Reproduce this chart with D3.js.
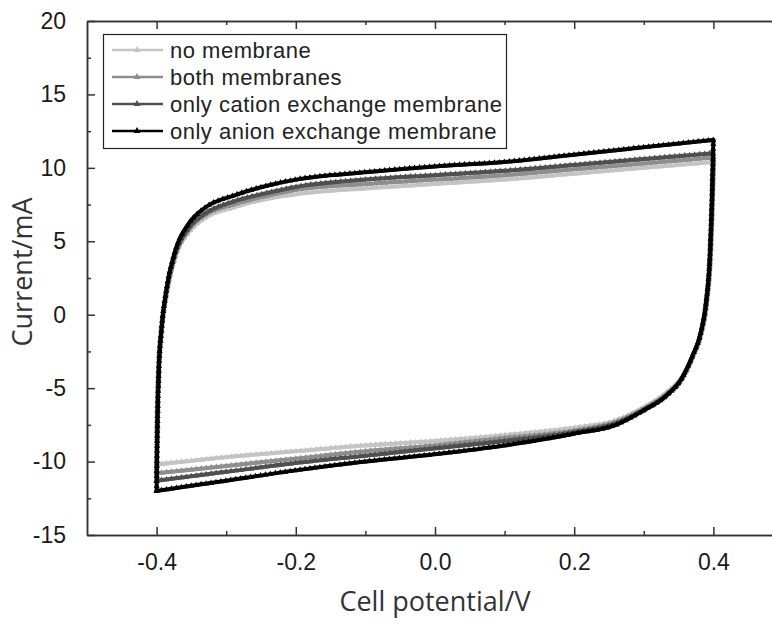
<!DOCTYPE html>
<html>
<head>
<meta charset="utf-8">
<script src="https://cdn.jsdelivr.net/npm/d3@7"></script>
<style>
body { margin:0; background:#fff; }
.tick text { font-family:"Liberation Sans", Arial, sans-serif; fill:#1a1a1a; }
.title { font-family:"Open Sans", sans-serif; fill:#333; }
.legend text { font-family:"Liberation Sans", Arial, sans-serif; fill:#222; }
</style>
</head>
<body>
<svg></svg>
<script>
//series names, in drawing order
var seriesNames = ["no membrane","both membranes","only cation exchange membrane","only anion exchange membrane"];
var seriesColors = ["#c4c4c4","#8e8e8e","#4f4f4f","#000000"];

//forward scan (-0.4 -> 0.4), potentials in V
var upperPotential = [-0.400,-0.399,-0.397,-0.393,-0.386,-0.373,-0.354,-0.330,-0.290,-0.240,-0.200,-0.100,0.000,0.100,0.200,0.300,0.400];
//reverse scan (0.4 -> -0.4)
var lowerPotential = [0.400,0.398,0.395,0.390,0.382,0.370,0.355,0.330,0.300,0.260,0.200,0.100,0.000,-0.100,-0.200,-0.300,-0.400];

//currents in mA
var noneUpper   = [-10.2,-7.0,-3.6,-1.0,1.4,4.0,5.6,6.6,7.3,7.9,8.2,8.6,8.9,9.2,9.6,10.0,10.4];
var noneLower   = [10.4,7.0,3.6,1.0,-1.2,-2.8,-4.2,-5.4,-6.3,-7.2,-7.7,-8.2,-8.6,-8.9,-9.3,-9.7,-10.2];
var bothUpper   = [-10.8,-7.3,-3.7,-1.0,1.5,4.1,5.8,6.8,7.5,8.1,8.5,8.9,9.2,9.5,9.9,10.3,10.7];
var bothLower   = [10.7,7.3,3.7,1.0,-1.2,-2.8,-4.3,-5.5,-6.4,-7.3,-7.9,-8.4,-8.9,-9.3,-9.8,-10.3,-10.8];
var cationUpper = [-11.3,-7.6,-3.8,-1.0,1.6,4.2,5.9,6.9,7.7,8.3,8.7,9.2,9.5,9.8,10.2,10.6,11.0];
var cationLower = [11.0,7.5,3.8,1.0,-1.2,-2.8,-4.3,-5.6,-6.5,-7.4,-8.0,-8.6,-9.1,-9.6,-10.1,-10.7,-11.3];
var anionUpper  = [-12.0,-8.0,-4.0,-1.0,1.7,4.4,6.2,7.3,8.1,8.8,9.2,9.7,10.1,10.4,10.9,11.4,11.9];
var anionLower  = [11.9,8.0,4.0,1.0,-1.2,-2.8,-4.3,-5.6,-6.5,-7.5,-8.1,-8.9,-9.5,-10.0,-10.6,-11.3,-12.0];

var xMajor = [-0.4,-0.2,0.0,0.2,0.4];
var xMinor = [-0.3,-0.1,0.1,0.3];
var yMajor = [-15,-10,-5,0,5,10,15,20];
var yMinor = [-12.5,-7.5,-2.5,2.5,7.5,12.5,17.5];

//each series -> two branches, both sorted by potential
var buildBranches = function(upper,lower)
{
    var up = upperPotential.map(function(v,i){ return {v:v,c:upper[i]}; });
    var down = lowerPotential.map(function(v,i){ return {v:v,c:lower[i]}; }).reverse();
    return [up,down];
}

var branches = [
    buildBranches(noneUpper,noneLower),
    buildBranches(bothUpper,bothLower),
    buildBranches(cationUpper,cationLower),
    buildBranches(anionUpper,anionLower)
];

var screen = {width:772,height:625};
var frame = {left:87,top:21,right:783,bottom:535};

var svg = d3.select("svg")
    .attr("width",screen.width)
    .attr("height",screen.height);

var xScale = d3.scaleLinear()
    .domain([-0.5,0.5])
    .range([frame.left,frame.right]);

var yScale = d3.scaleLinear()
    .domain([-15,20])
    .range([frame.bottom,frame.top]);

var makeTranslateString = function(x,y)
{
    return "translate("+x+","+y+")";
}

//curves
var line = d3.line()
    .x(function(d){ return xScale(d.v); })
    .y(function(d){ return yScale(d.c); })
    .curve(d3.curveMonotoneX);

var plot = svg.append("g").attr("id","graph");

branches.forEach(function(pair,k)
{
    pair.forEach(function(pts)
    {
        var path = plot.append("path")
            .datum(pts)
            .attr("d",line)
            .attr("fill","none")
            .attr("stroke",seriesColors[k])
            .attr("stroke-width",4)
            .attr("stroke-linecap","round");

        //dense markers sampled along the path
        var node = path.node();
        var len = node.getTotalLength();
        var marks = d3.range(0,len,5).map(function(l){ return node.getPointAtLength(l); });
        plot.append("g").selectAll("path")
            .data(marks)
            .enter()
            .append("path")
            .attr("d",d3.symbol().type(d3.symbolTriangle).size(16))
            .attr("transform",function(p){ return makeTranslateString(p.x,p.y); })
            .attr("fill",seriesColors[k]);
    });
});

//axes
var styleAxis = function(g)
{
    g.select(".domain").attr("stroke","#333").attr("stroke-width",1.5);
    g.selectAll(".tick line").attr("stroke","#333").attr("stroke-width",1.5);
}

svg.append("g")
    .attr("transform",makeTranslateString(0,frame.bottom))
    .call(d3.axisBottom(xScale).tickValues(xMajor).tickSize(-8).tickPadding(19)
        .tickFormat(function(d){ return d.toFixed(1); }).tickSizeOuter(0))
    .call(styleAxis)
    .selectAll("text").attr("font-size",23);

svg.append("g")
    .attr("transform",makeTranslateString(0,frame.bottom))
    .call(d3.axisBottom(xScale).tickValues(xMinor).tickSize(-4).tickFormat("").tickSizeOuter(0))
    .call(styleAxis);

svg.append("g")
    .attr("transform",makeTranslateString(0,frame.top))
    .call(d3.axisTop(xScale).tickValues(xMajor).tickSize(-8).tickFormat("").tickSizeOuter(0))
    .call(styleAxis);

svg.append("g")
    .attr("transform",makeTranslateString(0,frame.top))
    .call(d3.axisTop(xScale).tickValues(xMinor).tickSize(-4).tickFormat("").tickSizeOuter(0))
    .call(styleAxis);

svg.append("g")
    .attr("transform",makeTranslateString(frame.left,0))
    .call(d3.axisLeft(yScale).tickValues(yMajor).tickSize(-8).tickPadding(21)
        .tickFormat(function(d){ return String(d); }).tickSizeOuter(0))
    .call(styleAxis)
    .selectAll("text").attr("font-size",23);

svg.append("g")
    .attr("transform",makeTranslateString(frame.left,0))
    .call(d3.axisLeft(yScale).tickValues(yMinor).tickSize(-4).tickFormat("").tickSizeOuter(0))
    .call(styleAxis);

//axis titles
svg.append("text")
    .classed("title",true)
    .text("Cell potential/V")
    .attr("text-anchor","middle")
    .attr("font-size",27)
    .attr("x",xScale(0))
    .attr("y",611);

svg.append("g")
    .attr("transform",makeTranslateString(32,272))
    .append("text")
    .classed("title",true)
    .text("Current/mA")
    .attr("text-anchor","middle")
    .attr("font-size",27)
    .attr("transform","rotate(270)");

//legend
var legend = svg.append("g").classed("legend",true);

legend.append("rect")
    .attr("x",103.5)
    .attr("y",34.5)
    .attr("width",403)
    .attr("height",114)
    .attr("fill","#fff")
    .attr("stroke","#222")
    .attr("stroke-width",1.2);

var rowY = function(i){ return 50 + i*27; };

var rows = legend.selectAll("g.row")
    .data(seriesNames)
    .enter()
    .append("g")
    .classed("row",true)
    .attr("transform",function(d,i){ return makeTranslateString(0,rowY(i)); });

rows.append("line")
    .attr("x1",112).attr("x2",163)
    .attr("stroke",function(d,i){ return seriesColors[i]; })
    .attr("stroke-width",2.5);

rows.append("path")
    .attr("d",d3.symbol().type(d3.symbolTriangle).size(20))
    .attr("transform","translate(137,0)")
    .attr("fill",function(d,i){ return seriesColors[i]; });

rows.append("text")
    .text(function(d){ return d; })
    .attr("x",170)
    .attr("dy","0.35em")
    .attr("font-size",22)
    .attr("letter-spacing",0.5);
</script>
</body>
</html>
